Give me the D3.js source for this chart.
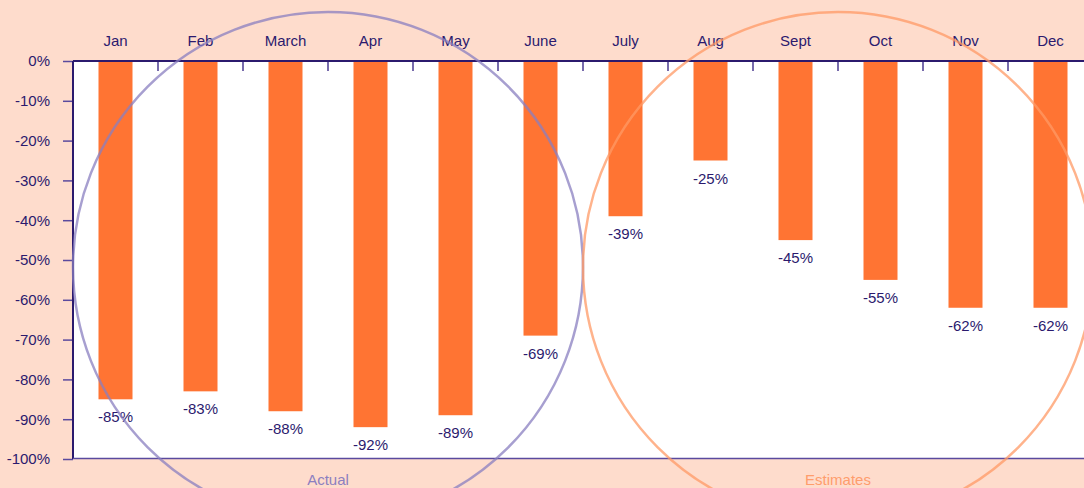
<!DOCTYPE html>
<html>
<head>
<meta charset="utf-8">
<script src="https://cdn.jsdelivr.net/npm/d3@7"></script>
<style>
  body { margin: 0; background: #fedccc; }
  svg { display: block; font-family: "Liberation Sans", Arial, sans-serif; }
</style>
</head>
<body>
<div id="chart"></div>
<script>
// month labels and % change values
var months = ['Jan', 'Feb', 'March', 'Apr', 'May', 'June', 'July', 'Aug', 'Sept', 'Oct', 'Nov', 'Dec'];
var values = [-85, -83, -88, -92, -89, -69, -39, -25, -45, -55, -62, -62];
var yTicks = [0, -10, -20, -30, -40, -50, -60, -70, -80, -90, -100];
var groups = [
  { name: 'Actual', from: 'Jan', to: 'June' },
  { name: 'Estimates', from: 'July', to: 'Dec' }
];

var W = 1084, H = 488
  , plotLeft = 73, plotTop = 61, plotBottom = 459
  , ink = '#2b1a6e';

var svg = d3.select('#chart').append('svg')
  .attr('width', W).attr('height', H);

svg.append('rect').attr('width', W).attr('height', H).attr('fill', '#fedccc');

var x = d3.scaleBand().domain(months).range([plotLeft, plotLeft + 85 * 12]).paddingInner(0.6).paddingOuter(0.3);
var y = d3.scaleLinear().domain([0, -100]).range([plotTop, plotBottom]);

// white plot area
svg.append('rect')
  .attr('x', plotLeft).attr('y', plotTop)
  .attr('width', W - plotLeft).attr('height', plotBottom - plotTop)
  .attr('fill', '#fff');

// bars
svg.selectAll('.bar')
  .data(values)
  .enter().append('rect')
  .attr('class', 'bar')
  .attr('x', function(d, i) { return x(months[i]); })
  .attr('y', y(0))
  .attr('width', x.bandwidth())
  .attr('height', function(d) { return y(d) - y(0); })
  .attr('fill', '#ff7433');

// value labels under the bars
svg.selectAll('.val')
  .data(values)
  .enter().append('text')
  .attr('class', 'val')
  .attr('x', function(d, i) { return x(months[i]) + x.bandwidth() / 2; })
  .attr('y', function(d) { return y(d) + 23; })
  .attr('text-anchor', 'middle')
  .attr('font-size', 15)
  .attr('fill', ink)
  .text(function(d) { return d + '%'; });

// top axis: month names, inner ticks at band edges
var step = x.step();
svg.append('g').selectAll('line')
  .data(d3.range(1, 13))
  .enter().append('line')
  .attr('x1', function(i) { return plotLeft + i * step; })
  .attr('x2', function(i) { return plotLeft + i * step; })
  .attr('y1', plotTop).attr('y2', plotTop + 10)
  .attr('stroke', '#4a3a90').attr('stroke-width', 1.5);

svg.append('g').selectAll('text')
  .data(months)
  .enter().append('text')
  .attr('x', function(d) { return x(d) + x.bandwidth() / 2; })
  .attr('y', 46)
  .attr('text-anchor', 'middle')
  .attr('font-size', 15)
  .attr('fill', ink)
  .text(function(d) { return d; });

// left axis
var yAxis = d3.axisLeft(y).tickValues(yTicks).tickSize(10).tickFormat(function(d) { return d + '%'; });
var ga = svg.append('g').attr('transform', 'translate(' + plotLeft + ',0)').call(yAxis);
ga.select('.domain').remove();
ga.selectAll('line').attr('stroke', '#5a4a9e').attr('stroke-width', 1.5);
ga.selectAll('text').attr('font-size', 15).attr('fill', ink).attr('x', -23).attr('font-family', 'Liberation Sans, Arial, sans-serif');

svg.append('line').attr('x1', plotLeft).attr('x2', plotLeft).attr('y1', plotTop).attr('y2', plotBottom)
  .attr('stroke', ink).attr('stroke-width', 2);
svg.append('line').attr('x1', plotLeft).attr('x2', W).attr('y1', plotTop).attr('y2', plotTop)
  .attr('stroke', ink).attr('stroke-width', 2);
svg.append('line').attr('x1', plotLeft).attr('x2', W).attr('y1', plotBottom - 0.5).attr('y2', plotBottom - 0.5)
  .attr('stroke', '#5a4a9e').attr('stroke-width', 1.5);

// group circles with names underneath
var styles = { Actual: { stroke: '#8a7fc0', text: '#8c80c0' }, Estimates: { stroke: '#ff9a66', text: '#ff9d6c' } };
groups.forEach(function(g) {
  var cx = (x(g.from) + x(g.to) + x.bandwidth()) / 2;
  svg.append('circle')
    .attr('cx', cx).attr('cy', 267).attr('r', 255)
    .attr('fill', 'none')
    .attr('stroke', styles[g.name].stroke)
    .attr('stroke-opacity', 0.75)
    .attr('stroke-width', 2.5);
  svg.append('text')
    .attr('x', cx).attr('y', 485)
    .attr('text-anchor', 'middle')
    .attr('font-size', 15)
    .attr('fill', styles[g.name].text)
    .text(g.name);
});
</script>
</body>
</html>
